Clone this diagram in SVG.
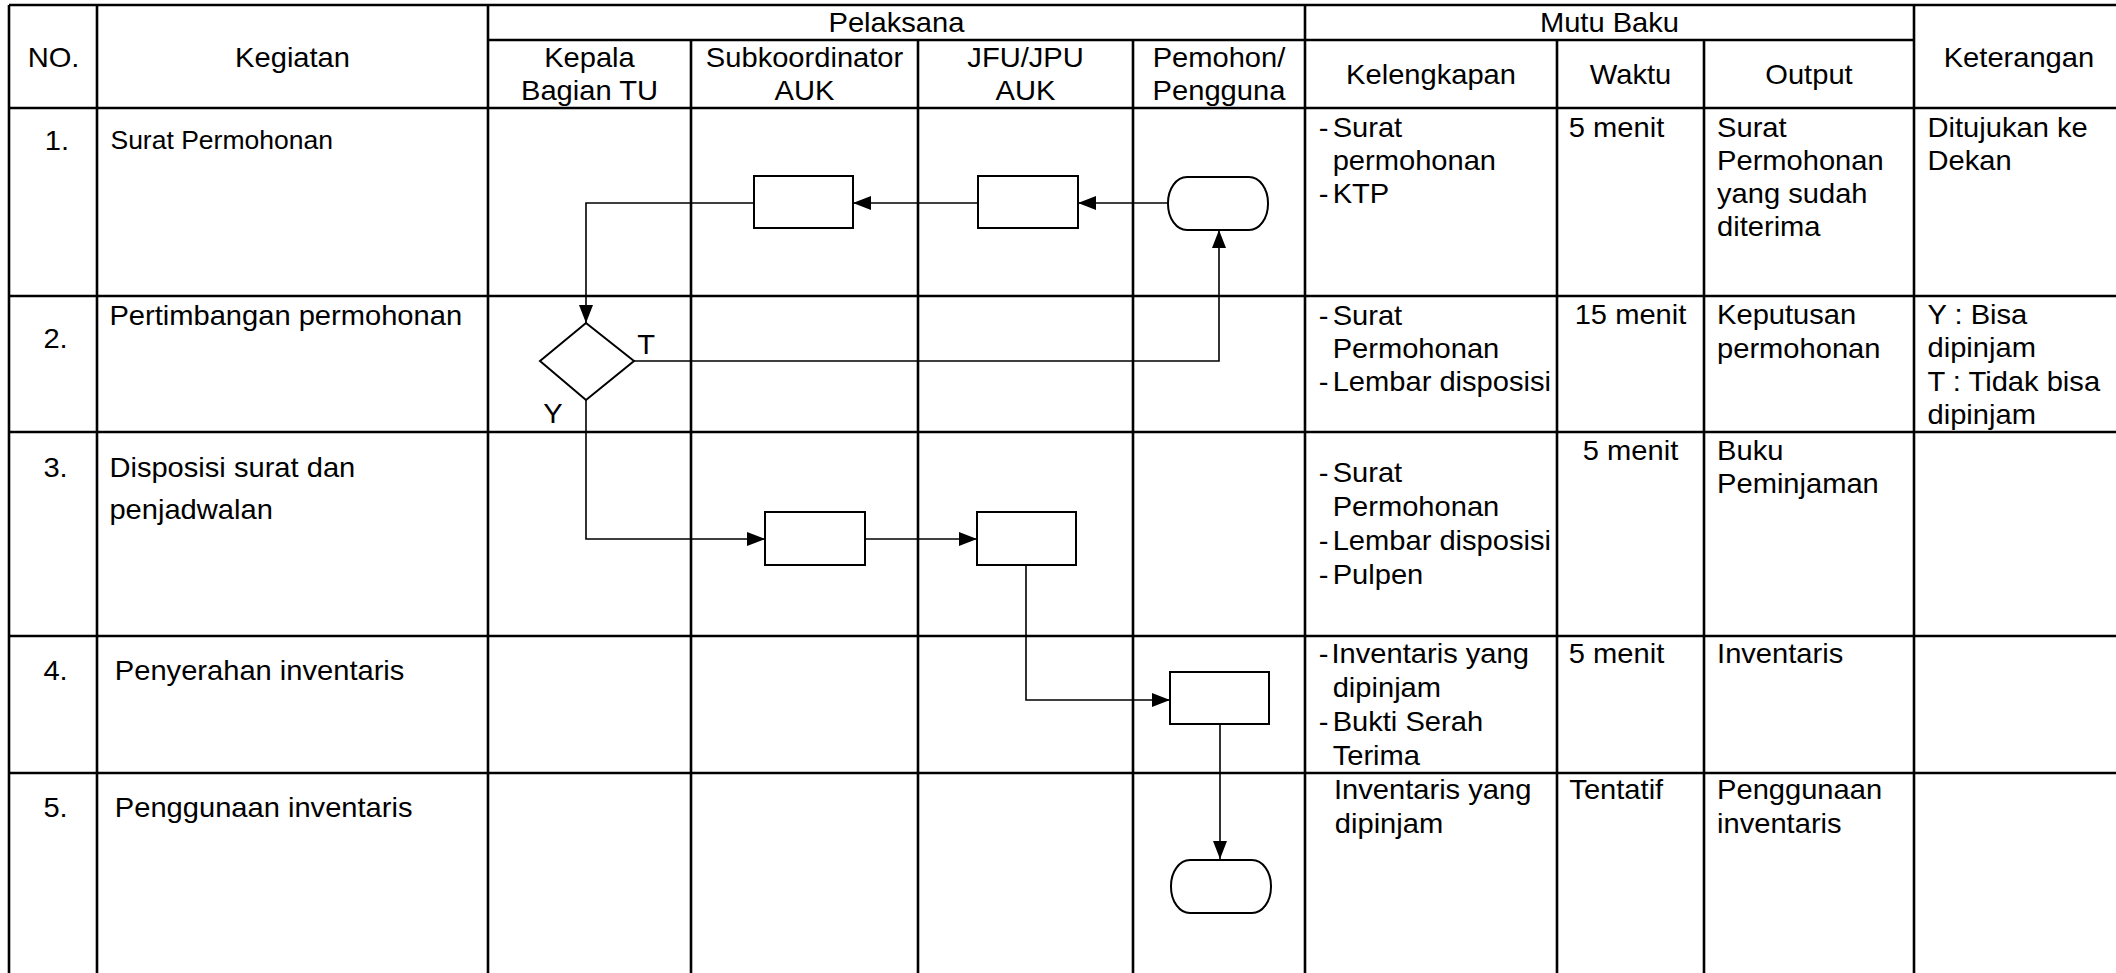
<svg xmlns="http://www.w3.org/2000/svg" width="2116" height="973" viewBox="0 0 2116 973">
  <style>
    .grid { stroke: #000; stroke-width: 2.6; fill: none; }
    .shape { fill: #fff; stroke: #000; stroke-width: 2; }
    .conn { fill: none; stroke: #000; stroke-width: 1.6; }
    text { font-family: "Liberation Sans", Arial, sans-serif; font-size: 28px; fill: #000; }
    .c { text-anchor: middle; }
    .sm { font-size: 25.5px; }
  </style>
  <defs>
    <marker id="arrow" markerUnits="userSpaceOnUse" markerWidth="18" markerHeight="14" refX="18" refY="7" orient="auto">
      <path d="M0,0 L18,7 L0,14 Z" fill="#000"/>
    </marker>
  </defs>
  <rect width="2116" height="973" fill="#fff"/>

  <!-- table grid -->
  <g id="grid" class="grid">
    <line x1="9" y1="5" x2="2116" y2="5"/>
    <line x1="488" y1="40" x2="1914" y2="40"/>
    <line x1="9" y1="108" x2="2116" y2="108"/>
    <line x1="9" y1="296" x2="2116" y2="296"/>
    <line x1="9" y1="432" x2="2116" y2="432"/>
    <line x1="9" y1="636" x2="2116" y2="636"/>
    <line x1="9" y1="773" x2="2116" y2="773"/>
    <line x1="9" y1="5" x2="9" y2="973"/>
    <line x1="97" y1="5" x2="97" y2="973"/>
    <line x1="488" y1="5" x2="488" y2="973"/>
    <line x1="691" y1="40" x2="691" y2="973"/>
    <line x1="918" y1="40" x2="918" y2="973"/>
    <line x1="1133" y1="40" x2="1133" y2="973"/>
    <line x1="1305" y1="5" x2="1305" y2="973"/>
    <line x1="1557" y1="40" x2="1557" y2="973"/>
    <line x1="1704" y1="40" x2="1704" y2="973"/>
    <line x1="1914" y1="5" x2="1914" y2="973"/>
  </g>

  <!-- cell texts (set in a slightly widened face) -->
  <g id="cells" transform="scale(1.04 1)">
    <!-- header -->
    <text class="c" x="51.5" y="67">NO.</text>
    <text class="c" x="281.3" y="67">Kegiatan</text>
    <text class="c" x="862" y="32">Pelaksana</text>
    <text class="c" x="1547.6" y="32">Mutu Baku</text>
    <text class="c" x="566.8" y="67">Kepala</text>
    <text class="c" x="566.8" y="100">Bagian TU</text>
    <text class="c" x="773.6" y="67">Subkoordinator</text>
    <text class="c" x="773.6" y="100">AUK</text>
    <text class="c" x="986.1" y="67">JFU/JPU</text>
    <text class="c" x="986.1" y="100">AUK</text>
    <text class="c" x="1172.1" y="67">Pemohon/</text>
    <text class="c" x="1172.1" y="100">Pengguna</text>
    <text class="c" x="1376" y="84">Kelengkapan</text>
    <text class="c" x="1567.8" y="84">Waktu</text>
    <text class="c" x="1739.4" y="84">Output</text>
    <text class="c" x="1941.3" y="67">Keterangan</text>

    <!-- row 1 -->
    <text class="c" x="54.8" y="150">1.</text>
    <text class="sm" x="106.2" y="149">Surat Permohonan</text>
    <text x="1268" y="137">-</text>
    <text x="1281.4" y="137">Surat</text>
    <text x="1281.4" y="170">permohonan</text>
    <text x="1268" y="203">-</text>
    <text x="1281.4" y="203">KTP</text>
    <text x="1508.5" y="137">5 menit</text>
    <text x="1651" y="137">Surat</text>
    <text x="1651" y="170">Permohonan</text>
    <text x="1651" y="203">yang sudah</text>
    <text x="1651" y="236">diterima</text>
    <text x="1853.4" y="137">Ditujukan ke</text>
    <text x="1853.4" y="170">Dekan</text>

    <!-- row 2 -->
    <text class="c" x="53.4" y="348">2.</text>
    <text x="105.2" y="325">Pertimbangan permohonan</text>
    <text x="1268" y="325">-</text>
    <text x="1281.4" y="325">Surat</text>
    <text x="1281.4" y="358">Permohonan</text>
    <text x="1268" y="391">-</text>
    <text x="1281.4" y="391" textLength="210" lengthAdjust="spacingAndGlyphs">Lembar disposisi</text>
    <text class="c" x="1567.8" y="324">15 menit</text>
    <text x="1651" y="324">Keputusan</text>
    <text x="1651" y="358">permohonan</text>
    <text x="1853.4" y="324">Y : Bisa</text>
    <text x="1853.4" y="357">dipinjam</text>
    <text x="1853.4" y="391">T : Tidak bisa</text>
    <text x="1853.4" y="424">dipinjam</text>

    <!-- row 3 -->
    <text class="c" x="53.4" y="477">3.</text>
    <text x="105.2" y="477">Disposisi surat dan</text>
    <text x="105.2" y="519">penjadwalan</text>
    <text x="1268" y="482">-</text>
    <text x="1281.4" y="482">Surat</text>
    <text x="1281.4" y="516">Permohonan</text>
    <text x="1268" y="550">-</text>
    <text x="1281.4" y="550" textLength="210" lengthAdjust="spacingAndGlyphs">Lembar disposisi</text>
    <text x="1268" y="584">-</text>
    <text x="1281.4" y="584">Pulpen</text>
    <text class="c" x="1567.8" y="460">5 menit</text>
    <text x="1651" y="460">Buku</text>
    <text x="1651" y="493">Peminjaman</text>

    <!-- row 4 -->
    <text class="c" x="53.4" y="680">4.</text>
    <text x="110.4" y="680">Penyerahan inventaris</text>
    <text x="1268" y="663">-</text>
    <text x="1280.3" y="663">Inventaris yang</text>
    <text x="1281.4" y="697">dipinjam</text>
    <text x="1268" y="731">-</text>
    <text x="1281.4" y="731">Bukti Serah</text>
    <text x="1281.4" y="765">Terima</text>
    <text x="1508.5" y="663">5 menit</text>
    <text x="1651" y="663">Inventaris</text>

    <!-- row 5 -->
    <text class="c" x="53.4" y="817">5.</text>
    <text x="110.4" y="817">Penggunaan inventaris</text>
    <text x="1282.7" y="799">Inventaris yang</text>
    <text x="1283.5" y="833">dipinjam</text>
    <text x="1509" y="799">Tentatif</text>
    <text x="1651" y="799">Penggunaan</text>
    <text x="1651" y="833">inventaris</text>
  </g>

  <!-- connectors -->
  <g id="connectors" class="conn">
    <path d="M1168,203 H1078" marker-end="url(#arrow)"/>
    <path d="M978,203 H853" marker-end="url(#arrow)"/>
    <path d="M754,203 H586 V323" marker-end="url(#arrow)"/>
    <path d="M634,361 H1219 V230" marker-end="url(#arrow)"/>
    <path d="M586,400 V539 H765" marker-end="url(#arrow)"/>
    <path d="M865,539 H977" marker-end="url(#arrow)"/>
    <path d="M1026,565 V700 H1170" marker-end="url(#arrow)"/>
    <path d="M1220,724 V859" marker-end="url(#arrow)"/>
  </g>
  <g id="decision-labels" transform="scale(1.04 1)">
    <text class="c" x="621.2" y="354">T</text>
    <text class="c" x="531.7" y="423">Y</text>
  </g>

  <!-- row 1 nodes -->
  <g id="start-request">
    <rect class="shape" x="1168" y="177" width="100" height="53" rx="19" ry="26"/>
  </g>
  <g id="jfu-receive">
    <rect class="shape" x="978" y="176" width="100" height="52"/>
  </g>
  <g id="subkoor-forward">
    <rect class="shape" x="754" y="176" width="99" height="52"/>
  </g>
  <!-- row 2 -->
  <g id="head-decision">
    <polygon class="shape" points="586,323 634,361 586,400 540,361"/>
  </g>
  <!-- row 3 -->
  <g id="subkoor-disposition">
    <rect class="shape" x="765" y="512" width="100" height="53"/>
  </g>
  <g id="jfu-schedule">
    <rect class="shape" x="977" y="512" width="99" height="53"/>
  </g>
  <!-- row 4 -->
  <g id="handover">
    <rect class="shape" x="1170" y="672" width="99" height="52"/>
  </g>
  <!-- row 5 -->
  <g id="end-use">
    <rect class="shape" x="1171" y="860" width="100" height="53" rx="19" ry="26"/>
  </g>
</svg>
